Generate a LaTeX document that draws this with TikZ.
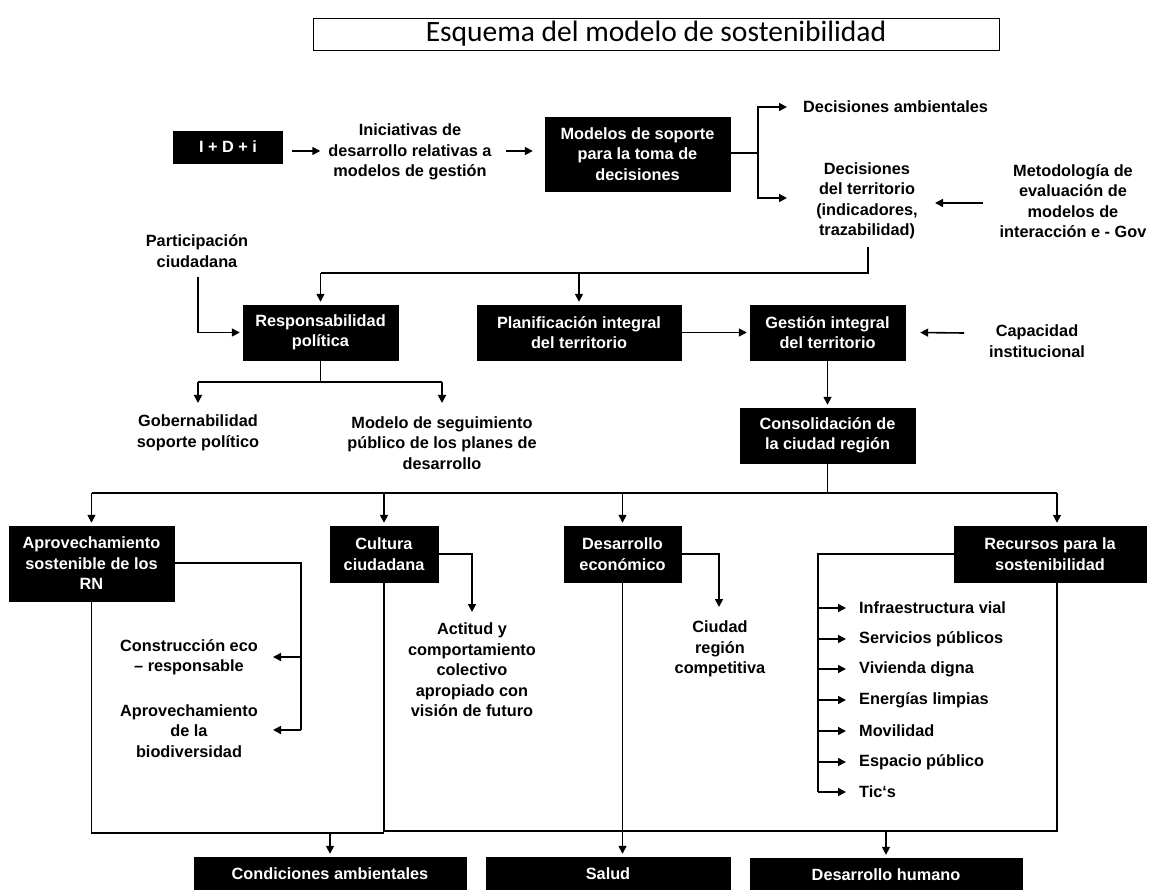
\documentclass[tikz,border=0pt]{standalone}
\usepackage{fontspec}
\setmainfont{Liberation Sans}
\newfontfamily\titlefont{Carlito}
\usetikzlibrary{arrows.meta,calc}
\begin{document}
\begin{tikzpicture}[x=1pt,y=-1pt,
  font=\fontsize{16.3}{20.5}\selectfont\bfseries,
  bx/.style={fill=black,text=white,align=center,inner sep=0pt,draw=black},
  tx/.style={align=center,inner sep=0pt},
  ln/.style={line width=1.6pt,draw=black},
  arr/.style={ln,-{Triangle[length=8pt,width=8pt]},shorten >=3pt},
]
\useasboundingbox (0,0) rectangle (1152,890);
\fill[white] (0,0) rectangle (1152,890);

% title
\node[draw,line width=0.9pt,minimum width=686pt,minimum height=32pt,inner sep=0pt,
  font=\titlefont\fontsize{29.5}{32}\selectfont] (title) at (656,34) {Esquema del modelo de sostenibilidad};

% top row
\node[bx,minimum width=109pt,minimum height=32pt] (idi) at (228,147) {I + D + i};
\node[tx] (inic) at (410,152) {Iniciativas de\\desarrollo relativas a\\modelos de gestión};
\node[bx,minimum width=185pt,minimum height=74pt] (mod) at (637.5,154) {Modelos de soporte\\para la toma de\\decisiones};
\coordinate (a1s) at (292,151);
\coordinate (a2s) at (506,151);
\draw[arr] (a1s) -- ($(inic.west |- a1s)+(-5,0)$);
\draw[arr] (a2s) -- ($(mod.west |- a2s)+(-9,0)$);

\node[tx,anchor=west] (dam) at (803,107) {Decisiones ambientales};
\node[tx] (dter) at (867,201) {Decisiones\\del territorio\\(indicadores,\\trazabilidad)};
\node[tx] (met) at (1073,201) {Metodología de\\evaluación de\\modelos de\\interacción e - Gov};
\coordinate (b1) at (758,153);
\coordinate (b1t) at (790,198);
\draw[ln] (mod.east |- b1) -- (b1);
\draw[arr] (b1) |- ($(dam.west)+(-13,0)$);
\draw[arr] (b1) |- (b1t);
\coordinate (m1) at (983,203);
\coordinate (m2) at (932,203);
\draw[arr] (m1) -- (m2);

% second row
\node[tx] (part) at (197,251) {Participación\\ciudadana};
\node[bx,minimum width=155pt,minimum height=55pt] (resp) at (320.5,332.5) {Responsabilidad\\política};
\node[bx,minimum width=204pt,minimum height=55pt] (plan) at (579,332.5) {Planificación integral\\del territorio};
\node[bx,minimum width=155pt,minimum height=55pt] (gest) at (827.5,332.5) {Gestión integral\\del territorio};
\node[tx] (cap) at (1037,341) {Capacidad\\institucional};
\coordinate (d1) at (868,247);
\coordinate (d2) at (868,273);
\draw[ln] (d1) -- (d2) -- (d2 -| resp.north);
\draw[arr] (d2 -| resp.north) -- (resp.north);
\draw[arr] (d2 -| plan.north) -- (plan.north);
\coordinate (p1) at (198,277);
\draw[arr] (p1) |- (resp.west);
\draw[arr] (plan.east) -- (gest.west);
\coordinate (c1) at (964,333);
\draw[arr] (c1) -- ($(gest.east)+(12,0)$);

\node[tx] (gob) at (198,433) {Gobernabilidad\\soporte político};
\node[tx] (seg) at (442,443) {Modelo de seguimiento\\público de los planes de\\desarrollo};
\coordinate (r1) at (320.5,382);
\coordinate (g1) at (198,382);
\coordinate (g2) at (442,382);
\draw[ln] (resp.south) -- (r1);
\draw[ln] (g1) -- (g2);
\draw[arr] (g1) -- ++(0,24);
\draw[arr] (g2) -- ++(0,24);

\node[bx,minimum width=175pt,minimum height=55pt] (cons) at (827.5,435.5) {Consolidación de\\la ciudad región};
\draw[arr] (gest.south) -- (cons.north);

% third row
\node[bx,minimum width=165pt,minimum height=75pt] (rn) at (91.5,563.5) {Aprovechamiento\\sostenible de los\\RN};
\node[bx,minimum width=108pt,minimum height=56pt] (cul) at (384,554) {Cultura\\ciudadana};
\node[bx,minimum width=117pt,minimum height=56pt] (des) at (622.5,554) {Desarrollo\\económico};
\node[bx,minimum width=192pt,minimum height=56pt] (rec) at (1050,554) {Recursos para la\\sostenibilidad};
\coordinate (h0) at (827.5,493);
\coordinate (hL) at (91.5,493);
\coordinate (hR) at (1057,493);
\draw[ln] (cons.south) -- (h0);
\draw[ln] (hL) -- (hR);
\draw[arr] (hL) -- (rn.north);
\draw[arr] (hL -| cul.north) -- (cul.north);
\draw[arr] (hL -| des.north) -- (des.north);
\draw[arr] (hR) -- (hR |- rec.north);

% RN branch
\node[tx] (ceco) at (189,657) {Construcción eco\\– responsable};
\node[tx] (abio) at (189,731) {Aprovechamiento\\de la\\biodiversidad};
\coordinate (rb) at (301,563);
\coordinate (rb1) at (301,657);
\coordinate (rb2) at (301,730);
\draw[ln] (rn.east |- rb) -- (rb) -- (rb2);
\draw[arr] (rb1) -- ++(-31,0);
\draw[arr] (rb2) -- ++(-31,0);

% Cultura branch
\node[tx] (act) at (472,670) {Actitud y\\comportamiento\\colectivo\\apropiado con\\visión de futuro};
\coordinate (cb) at (472,615);
\draw[arr] (cul.east) -| (cb);

% Desarrollo branch
\node[tx] (ciu) at (720,649) {Ciudad\\región\\competitiva};
\coordinate (db) at (719,610);
\draw[arr] (des.east) -| (db);

% Recursos branch
\coordinate (rcb) at (818,792);
\draw[ln] (rec.west) -| (rcb);
\foreach \yy/\tt [count=\i] in {608/Infraestructura vial,639/Servicios públicos,669/Vivienda digna,700/Energías limpias,731/Movilidad,762/Espacio público,792/Tic‘s}{
  \node[tx,anchor=west] (it\i) at (859,\yy) {\tt};
  \draw[arr] (818,\yy) -- ($(it\i.west)+(-10,0)$);
}

% bottom
\node[bx,minimum width=272pt,minimum height=34pt] (cond) at (330,874) {Condiciones ambientales};
\node[bx,minimum width=244pt,minimum height=34pt] (salud) at (608,874) {Salud};
\node[bx,minimum width=272pt,minimum height=34pt] (dh) at (886,875) {Desarrollo humano};
\coordinate (bL) at (91.5,833);
\coordinate (bM) at (384,833);
\coordinate (bC) at (384,831);
\coordinate (bR) at (1057,831);
\draw[ln] (rn.south) -- (bL) -- (bM);
\draw[ln] (cul.south) -- (bC) -- (bR) -- (bR |- rec.south);
\draw[arr] (des.south) -- (des.south |- salud.north);
\draw[arr] (bL -| cond.north) -- (cond.north);
\draw[arr] (bR -| dh.north) -- (dh.north);
\end{tikzpicture}
\end{document}
